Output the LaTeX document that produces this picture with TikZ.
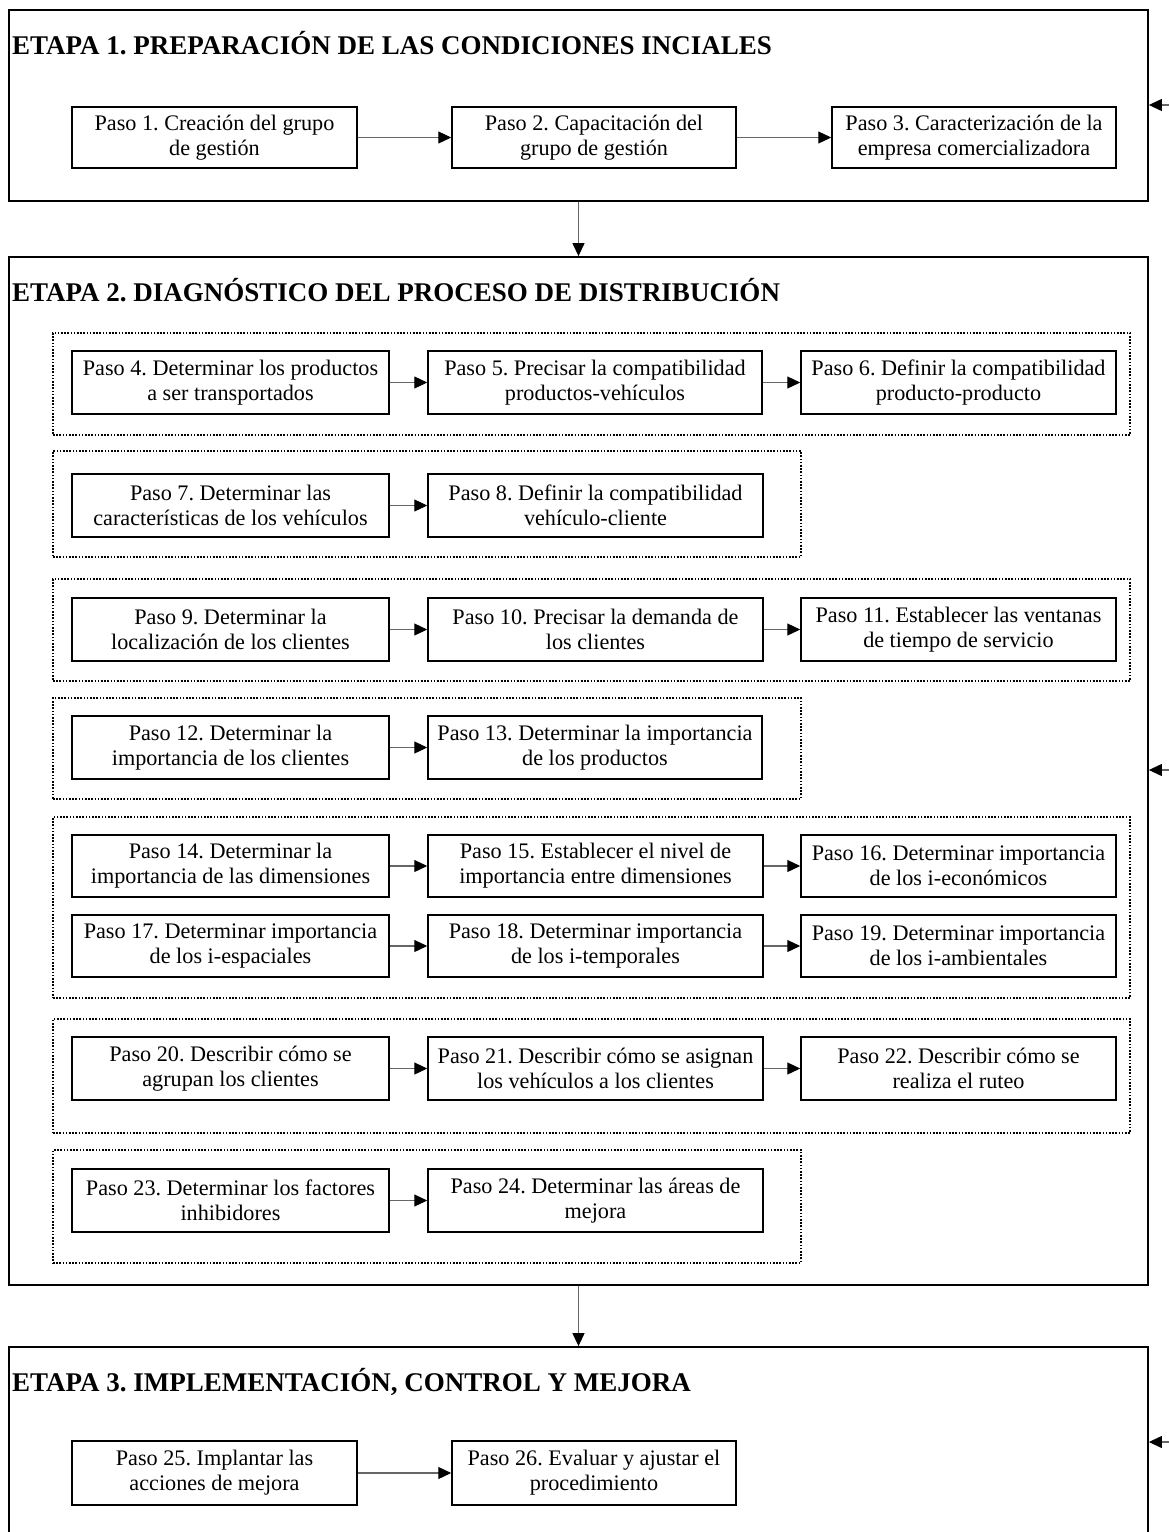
\documentclass[tikz,border=0pt]{standalone}
\usepackage{fontspec}
\setmainfont{Liberation Serif}
\usetikzlibrary{arrows.meta}
\frenchspacing

% box with corners (x1,y1) and (x2,y2), y measured downward
\newcommand{\pasonode}[6]{%
  \node[pasobox, minimum width={#4-#2}, minimum height={#5-#3}]
    (#1) at ({(#2+#4)/2},{(#3+#5)/2}) {#6};}
\newcommand{\grupo}[5]{%
  \node[grupobox, minimum width={#4-#2}, minimum height={#5-#3}]
    (#1) at ({(#2+#4)/2},{(#3+#5)/2}) {};}
\newcommand{\etapa}[5]{%
  \node[etapabox, minimum width={#4-#2}, minimum height={#5-#3}]
    (#1) at ({(#2+#4)/2},{(#3+#5)/2}) {};}

\tikzset{
  pasobox/.style={draw, line width=1.5pt, align=center, inner sep=0pt,
    font=\fontsize{22.2}{25}\selectfont},
  grupobox/.style={draw, line width=1.3pt, dash pattern=on 1.6pt off 1.6pt, inner sep=0pt},
  etapabox/.style={draw, line width=1.8pt, inner sep=0pt},
  titulo/.style={anchor=base west, inner sep=0pt, font=\fontsize{27}{32}\selectfont\bfseries},
  flecha/.style={draw=black!60, line width=1.2pt,
    -{Triangle[length=13pt, width=12pt, color=black]}},
}

\begin{document}
\begin{tikzpicture}[x=1pt, y=-1pt]
\useasboundingbox (0,0) rectangle (1169,1532);
\clip (0,0) rectangle (1169,1532);

% ---------- Etapa 1 ----------
\etapa{e1}{9}{10}{1148}{201}
\node[titulo] (t1) at (12,54) {ETAPA 1. PREPARACIÓN DE LAS CONDICIONES INCIALES};
\pasonode{p1}{72}{107}{357}{168}{Paso 1. Creación del grupo\\de gestión}
\pasonode{p2}{452}{107}{736}{168}{Paso 2. Capacitación del\\grupo de gestión}
\pasonode{p3}{832}{107}{1116}{168}{Paso 3. Caracterización de la\\empresa comercializadora}
\draw[flecha] (p1) -- (p2);
\draw[flecha] (p2) -- (p3);

% ---------- Etapa 2 ----------
\etapa{e2}{9}{257}{1148}{1285}
\node[titulo] (t2) at (12,301) {ETAPA 2. DIAGNÓSTICO DEL PROCESO DE DISTRIBUCIÓN};

\grupo{g1}{53}{333}{1130}{435}
\pasonode{p4}{72}{351}{389}{414}{Paso 4. Determinar los productos\\a ser transportados}
\pasonode{p5}{428}{351}{762}{414}{Paso 5. Precisar la compatibilidad\\productos-vehículos}
\pasonode{p6}{801}{351}{1116}{414}{Paso 6. Definir la compatibilidad\\producto-producto}
\draw[flecha] (p4) -- (p5);
\draw[flecha] (p5) -- (p6);

\grupo{g2}{53}{451}{801}{557}
\pasonode{p7}{72}{474}{389}{537}{Paso 7. Determinar las\\características de los vehículos}
\pasonode{p8}{428}{474}{763}{537}{Paso 8. Definir la compatibilidad\\vehículo-cliente}
\draw[flecha] (p7) -- (p8);

\grupo{g3}{53}{579}{1130}{681}
\pasonode{p9}{72}{598}{389}{661}{Paso 9. Determinar la\\localización de los clientes}
\pasonode{p10}{428}{598}{763}{661}{Paso 10. Precisar la demanda de\\los clientes}
\pasonode{p11}{801}{598}{1116}{661}{Paso 11. Establecer las ventanas\\de tiempo de servicio}
\draw[flecha] (p9) -- (p10);
\draw[flecha] (p10) -- (p11);

\grupo{g4}{53}{698}{801}{799}
\pasonode{p12}{72}{716}{389}{779}{Paso 12. Determinar la\\importancia de los clientes}
\pasonode{p13}{428}{716}{762}{779}{Paso 13. Determinar la importancia\\de los productos}
\draw[flecha] (p12) -- (p13);

\grupo{g5}{53}{817}{1130}{998}
\pasonode{p14}{72}{835}{389}{897}{Paso 14. Determinar la\\importancia de las dimensiones}
\pasonode{p15}{428}{835}{763}{897}{Paso 15. Establecer el nivel de\\importancia entre dimensiones}
\pasonode{p16}{801}{835}{1116}{897}{Paso 16. Determinar importancia\\de los i-económicos}
\pasonode{p17}{72}{915}{389}{977}{Paso 17. Determinar importancia\\de los i-espaciales}
\pasonode{p18}{428}{915}{763}{977}{Paso 18. Determinar importancia\\de los i-temporales}
\pasonode{p19}{801}{915}{1116}{977}{Paso 19. Determinar importancia\\de los i-ambientales}
\draw[flecha] (p14) -- (p15);
\draw[flecha] (p15) -- (p16);
\draw[flecha] (p17) -- (p18);
\draw[flecha] (p18) -- (p19);

\grupo{g6}{53}{1019}{1130}{1133}
\pasonode{p20}{72}{1037}{389}{1100}{Paso 20. Describir cómo se\\agrupan los clientes}
\pasonode{p21}{428}{1037}{763}{1100}{Paso 21. Describir cómo se asignan\\los vehículos a los clientes}
\pasonode{p22}{801}{1037}{1116}{1100}{Paso 22. Describir cómo se\\realiza el ruteo}
\draw[flecha] (p20) -- (p21);
\draw[flecha] (p21) -- (p22);

\grupo{g7}{53}{1150}{801}{1263}
\pasonode{p23}{72}{1169}{389}{1232}{Paso 23. Determinar los factores\\inhibidores}
\pasonode{p24}{428}{1169}{763}{1232}{Paso 24. Determinar las áreas de\\mejora}
\draw[flecha] (p23) -- (p24);

% ---------- Etapa 3 ----------
\etapa{e3}{9}{1347}{1148}{1560}
\node[titulo] (t3) at (12,1391) {ETAPA 3. IMPLEMENTACIÓN, CONTROL Y MEJORA};
\pasonode{p25}{72}{1441}{357}{1505}{Paso 25. Implantar las\\acciones de mejora}
\pasonode{p26}{452}{1441}{736}{1505}{Paso 26. Evaluar y ajustar el\\procedimiento}
\draw[flecha] (p25) -- (p26);

% ---------- enlaces entre etapas ----------
\draw[flecha] (e1.south) -- (e2.north);
\draw[flecha] (e2.south) -- (e3.north);

% retroalimentación que entra por la derecha
\coordinate (r1) at (1190,105);
\coordinate (r2) at (1190,770);
\coordinate (r3) at (1190,1442);
\draw[flecha] (r1) -- (e1.east |- r1);
\draw[flecha] (r2) -- (e2.east |- r2);
\draw[flecha] (r3) -- (e3.east |- r3);
\end{tikzpicture}
\end{document}
